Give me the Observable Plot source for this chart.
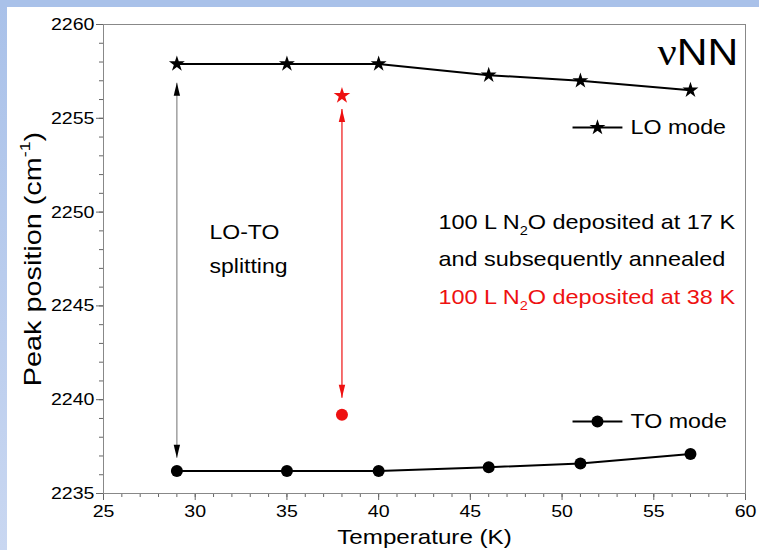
<!DOCTYPE html>
<html>
<head>
<meta charset="utf-8">
<script src="https://cdn.jsdelivr.net/npm/d3@7"></script>
<script src="https://cdn.jsdelivr.net/npm/@observablehq/plot@0.6"></script>
<style>
  html, body { margin: 0; padding: 0; background: white; }
  #wrap {
    width: 759px; height: 550px; position: relative; overflow: hidden;
    background:
      linear-gradient(#a9c1e9, #a9c1e9) top left / 100% 7px no-repeat,
      linear-gradient(to bottom, #a9c1e9, #c9d7f1) top left / 7px 100% no-repeat,
      white;
  }
  #wrap svg { display: block; }
</style>
</head>
<body>
<div id="wrap"></div>
<script>
// ---- data ----
const temperatures = [29, 35, 40, 46, 51, 57];
const loMode = [2257.9, 2257.9, 2257.9, 2257.3, 2257.0, 2256.5];
const toMode = [2236.2, 2236.2, 2236.2, 2236.4, 2236.6, 2237.1];

const dep38Temp = [38];
const dep38LO = [2256.2];
const dep38TO = [2239.2];

// LO-TO splitting arrows: temperature, top tip, bottom tip
const arrowTemps = [29, 38];
const arrowTop = [2256.9, 2255.5];
const arrowBottom = [2236.9, 2240.1];
const arrowColors = ["black", "#ee1111"];
const arrowShaft = ["#888888", "#ee1111"];

const xTicks = [25, 30, 35, 40, 45, 50, 55, 60];
const yTicks = [2235, 2240, 2245, 2250, 2255, 2260];

// ---- build tables ----
const lo = temperatures.map((t, i) => ({t, v: loMode[i]}));
const to = temperatures.map((t, i) => ({t, v: toMode[i]}));
const arrows = arrowTemps.map((t, i) => ({t, top: arrowTop[i], bottom: arrowBottom[i], c: arrowColors[i], s: arrowShaft[i]}));

const headUp = { draw(ctx) { ctx.moveTo(0, 0); ctx.lineTo(-3.2, 13); ctx.lineTo(3.2, 13); ctx.closePath(); } };
const headDown = { draw(ctx) { ctx.moveTo(0, 0); ctx.lineTo(-3.2, -13); ctx.lineTo(3.2, -13); ctx.closePath(); } };

const FONT = "'Liberation Sans', Arial, sans-serif";
const RED = "#ee1111";

const chart = Plot.plot({
  width: 759,
  height: 550,
  marginLeft: 103,
  marginRight: 14,
  marginTop: 24,
  marginBottom: 57,
  style: { fontFamily: FONT, background: "transparent", color: "black" },
  x: { domain: [25, 60] },
  y: { domain: [2235, 2260] },
  marks: [
    // minor ticks
    Plot.axisX({ticks: d3.range(25, 61, 1), tickSize: 4, tickFormat: () => "", label: null, stroke: "#666"}),
    Plot.axisY({ticks: d3.range(2235, 2261, 1), tickSize: 4, tickFormat: () => "", label: null, stroke: "#666"}),
    // major ticks
    Plot.axisX({ticks: xTicks, tickSize: 7, tickPadding: 4, tickFormat: d => String(d), label: null, fontSize: 17, stroke: "#666"}),
    Plot.axisY({ticks: yTicks, tickSize: 7, tickPadding: 2, tickFormat: d => String(d), label: null, fontSize: 17, stroke: "#666"}),
    Plot.frame({stroke: "#888"}),
    // splitting arrows
    Plot.link(arrows, {x1: "t", x2: "t", y1: "top", y2: "bottom", stroke: "s", strokeWidth: 1.2}),
    Plot.dot(arrows, {x: "t", y: "top", symbol: () => headUp, fill: "c", stroke: null, r: 5}),
    Plot.dot(arrows, {x: "t", y: "bottom", symbol: () => headDown, fill: "c", stroke: null, r: 5}),
    // series
    Plot.line(lo, {x: "t", y: "v", stroke: "black", strokeWidth: 2}),
    Plot.line(to, {x: "t", y: "v", stroke: "black", strokeWidth: 2}),
    Plot.dot(lo, {x: "t", y: "v", symbol: "star", fill: "black", r: 5}),
    Plot.dot(to, {x: "t", y: "v", symbol: "circle", fill: "black", r: 6}),
    Plot.dot(dep38Temp, {x: d => d, y: (d, i) => dep38LO[i], symbol: "star", fill: RED, r: 5.2}),
    Plot.dot(dep38Temp, {x: d => d, y: (d, i) => dep38TO[i], symbol: "circle", fill: RED, r: 6}),
    // legend
    Plot.link([0], {x1: 50.57, x2: 53.29, y1: 2254.51, y2: 2254.51, stroke: "black", strokeWidth: 2}),
    Plot.dot([0], {x: 51.93, y: 2254.51, symbol: "star", fill: "black", r: 5}),
    Plot.text(["LO mode"], {x: 53.73, y: 2254.51, text: d => d, textAnchor: "start", fontSize: 20.2}),
    Plot.link([0], {x1: 50.57, x2: 53.29, y1: 2238.84, y2: 2238.84, stroke: "black", strokeWidth: 2}),
    Plot.dot([0], {x: 51.93, y: 2238.84, symbol: "circle", fill: "black", r: 6}),
    Plot.text(["TO mode"], {x: 53.73, y: 2238.84, text: d => d, textAnchor: "start", fontSize: 20.2}),
    // annotations
    Plot.text(["\u03BDNN"], {x: 59.6, y: 2258.45, text: d => d, textAnchor: "end", fontSize: 37}),
    Plot.text(["LO-TO"], {x: 30.78, y: 2248.9, text: d => d, textAnchor: "start", fontSize: 20}),
    Plot.text(["splitting"], {x: 30.78, y: 2247.1, text: d => d, textAnchor: "start", fontSize: 20}),
    Plot.text(["100 L N_{2}O deposited at 17 K"], {x: 43.26, y: 2249.45, text: d => d, textAnchor: "start", fontSize: 20.4}),
    Plot.text(["and subsequently annealed"], {x: 43.26, y: 2247.47, text: d => d, textAnchor: "start", fontSize: 20.4}),
    Plot.text(["100 L N_{2}O deposited at 38 K"], {x: 43.26, y: 2245.45, text: d => d, textAnchor: "start", fontSize: 20.4, fill: RED}),
    // axis titles
    Plot.text(["Temperature (K)"], {frameAnchor: "bottom", lineAnchor: "middle", dy: 44, text: d => d, fontSize: 21}),
    Plot.text(["Peak position (cm^{-1})"], {frameAnchor: "left", textAnchor: "middle", lineAnchor: "middle", dx: -70, rotate: -90, text: d => d, fontSize: 24})
  ]
});

document.getElementById("wrap").appendChild(chart);

const SVGNS = "http://www.w3.org/2000/svg";
function fontSizeOf(t) {
  return parseFloat(getComputedStyle(t).fontSize) || 20;
}
// rich text: _{...} subscript, ^{...} superscript, Greek nu in serif
chart.querySelectorAll("text").forEach(t => {
  const s = t.textContent;
  const fs = fontSizeOf(t);
  if (s.startsWith("\u03BD")) {
    t.textContent = "";
    const a = document.createElementNS(SVGNS, "tspan");
    a.setAttribute("font-family", "'Liberation Serif', 'DejaVu Serif', serif");
    a.textContent = "\u03BD";
    const b = document.createElementNS(SVGNS, "tspan");
    b.textContent = s.slice(1);
    t.appendChild(a); t.appendChild(b);
    return;
  }
  if (!/[_^]\{/.test(s)) return;
  const parts = s.split(/([_^]\{[^}]*\})/).filter(p => p.length);
  t.textContent = "";
  let shift = 0;
  parts.forEach(p => {
    const ts = document.createElementNS(SVGNS, "tspan");
    let target = 0, txt = p, small = false;
    if (p.startsWith("_{")) { target = fs * 0.3; txt = p.slice(2, -1); small = true; }
    else if (p.startsWith("^{")) { target = -fs * 0.45; txt = p.slice(2, -1); small = true; }
    ts.setAttribute("dy", String(target - shift));
    shift = target;
    if (small) ts.setAttribute("font-size", String(fs * 0.62));
    ts.textContent = txt;
    t.appendChild(ts);
  });
});

// the reference typeface is wider than Arial: stretch glyphs horizontally
chart.querySelectorAll("text").forEach(t => {
  const L = t.getComputedTextLength();
  if (!L) return;
  const f = t.textContent.startsWith("Peak") ? 1.2 : 1.15;
  t.setAttribute("textLength", String(L * f));
  t.setAttribute("lengthAdjust", "spacingAndGlyphs");
});
</script>
</body>
</html>
